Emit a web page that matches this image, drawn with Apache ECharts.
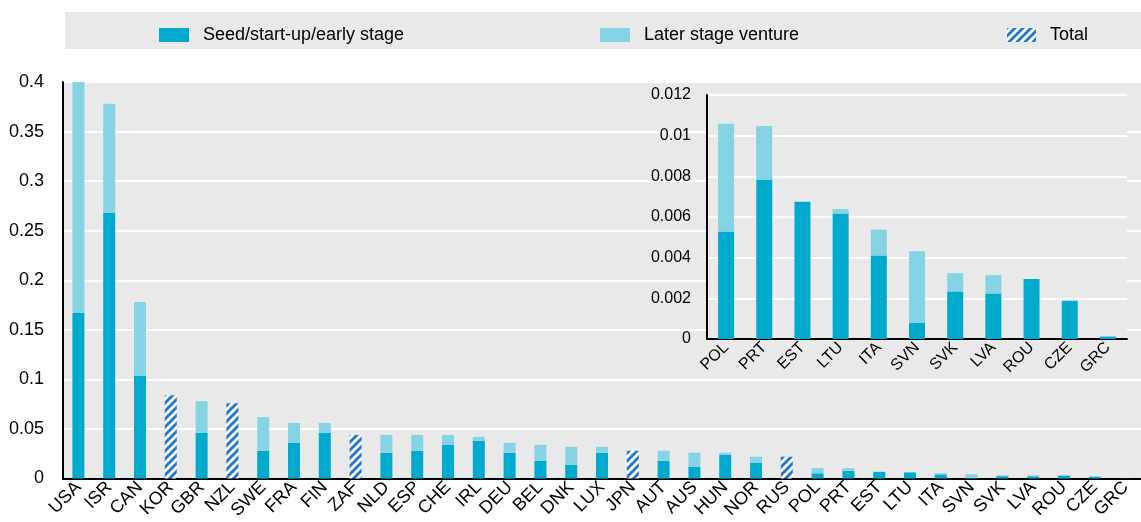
<!DOCTYPE html>
<html>
<head>
<meta charset="utf-8">
<script src="https://cdn.jsdelivr.net/npm/echarts@6/dist/echarts.min.js"></script>
<style>
html,body{margin:0;padding:0;background:#fff;}
#chart{width:1141px;height:522px;}
</style>
</head>
<body>
<div id="chart"></div>
<script>
// ---- Data ----
const categories = ['USA','ISR','CAN','KOR','GBR','NZL','SWE','FRA','FIN','ZAF','NLD','ESP','CHE','IRL','DEU','BEL','DNK','LUX','JPN','AUT','AUS','HUN','NOR','RUS','POL','PRT','EST','LTU','ITA','SVN','SVK','LVA','ROU','CZE','GRC'];
const seedValues = [0.167,0.268,0.1036,null,0.046,null,0.028,0.036,0.046,null,0.026,0.028,0.034,0.038,0.026,0.018,0.014,0.026,null,0.018,0.012,0.024,0.016,null,0.00529,0.00784,0.00675,0.00617,0.00411,0.00079,0.00234,0.00224,0.00295,0.00188,0.00012];
const laterValues = [0.233,0.110,0.0744,null,0.032,null,0.034,0.020,0.010,null,0.018,0.016,0.010,0.004,0.010,0.016,0.018,0.006,null,0.010,0.014,0.002,0.006,null,0.00529,0.00264,0,0.00022,0.00127,0.00353,0.0009,0.0009,0,0,0];
const totalValues = [null,null,null,0.084,null,0.076,null,null,null,0.044,null,null,null,null,null,null,null,null,0.028,null,null,null,null,0.022,null,null,null,null,null,null,null,null,null,null,null];
const insetCategories = ['POL','PRT','EST','LTU','ITA','SVN','SVK','LVA','ROU','CZE','GRC'];
const insetSeed = [0.00529,0.00784,0.00675,0.00617,0.00411,0.00079,0.00234,0.00224,0.00295,0.00188,0.00012];
const insetLater = [0.00529,0.00264,0,0.00022,0.00127,0.00353,0.0009,0.0009,0,0,0];
const mainTicks = {min:0, max:0.4, interval:0.05};
const insetTicks = {min:0, max:0.012, interval:0.002};

// ---- Style ----
const FONT = "'Liberation Sans',Arial,sans-serif";
const C_SEED = '#00aacc';
const C_LATER = '#86d3e5';
const C_BG = '#e9e9e9';

function makePattern(){
  const c = document.createElement('canvas');
  c.width = 8; c.height = 8;
  const g = c.getContext('2d');
  g.fillStyle = '#ffffff'; g.fillRect(0,0,8,8);
  g.strokeStyle = '#2479c9'; g.lineWidth = 3;
  g.beginPath();
  g.moveTo(-4,4); g.lineTo(4,-4);
  g.moveTo(0,8); g.lineTo(8,0);
  g.moveTo(4,12); g.lineTo(12,4);
  g.stroke();
  return c;
}
const totalPattern = {image: makePattern(), repeat: 'repeat'};

const chart = echarts.init(document.getElementById('chart'), null, {renderer:'canvas'});
const legendText = {fontSize: 18, fontFamily: FONT, color: '#000', padding: [0,0,0,9]};
const option = {
  animation: false,
  graphic: [{type:'rect', shape:{x:65, y:12, width:1076, height:37}, style:{fill:C_BG}, z:-10, silent:true}],
  legend: [
    {data:['Seed/start-up/early stage'], left:159, top:26, padding:0, itemWidth:30, itemHeight:14, icon:'rect', textStyle:legendText, selectedMode:false},
    {data:['Later stage venture'], left:600, top:26, padding:0, itemWidth:30, itemHeight:14, icon:'rect', textStyle:legendText, selectedMode:false},
    {data:['Total'], left:1007, top:26, padding:0, itemWidth:29, itemHeight:14, icon:'rect', textStyle:legendText, selectedMode:false}
  ],
  grid: [
    {left:63, top:82, width:31*35, height:399, show:true, backgroundColor:C_BG, borderWidth:0, containLabel:false},
    {left:707, top:95, width:420, height:244, show:true, backgroundColor:C_BG, borderWidth:0, containLabel:false, z:3}
  ],
  xAxis: [
    {type:'category', gridIndex:0, data:categories, boundaryGap:true,
     axisLine:{lineStyle:{color:'#000', width:2}}, axisTick:{show:false},
     axisLabel:{interval:0, rotate:45, margin:6, fontSize:18, fontFamily:FONT, color:'#000'}},
    {type:'category', gridIndex:1, data:insetCategories, boundaryGap:true, z:4,
     axisLine:{lineStyle:{color:'#000', width:2}}, axisTick:{show:false},
     axisLabel:{interval:0, rotate:45, margin:6, fontSize:16, fontFamily:FONT, color:'#000'}}
  ],
  yAxis: [
    {type:'value', gridIndex:0, min:mainTicks.min, max:mainTicks.max, interval:mainTicks.interval,
     axisLine:{show:true, lineStyle:{color:'#000', width:2}}, axisTick:{show:false},
     splitLine:{lineStyle:{color:'#fff', width:2}},
     axisLabel:{margin:19, fontSize:18, fontFamily:FONT, color:'#000'}},
    {type:'value', gridIndex:1, min:insetTicks.min, max:insetTicks.max, interval:insetTicks.interval, z:4,
     axisLine:{show:true, lineStyle:{color:'#000', width:2}}, axisTick:{show:false},
     splitLine:{lineStyle:{color:'#fff', width:2}},
     axisLabel:{margin:16, fontSize:16, fontFamily:FONT, color:'#000'}}
  ],
  series: [
    {name:'Seed/start-up/early stage', type:'bar', stack:'m', xAxisIndex:0, yAxisIndex:0, barWidth:12, data:seedValues, itemStyle:{color:C_SEED}},
    {name:'Later stage venture', type:'bar', stack:'m', xAxisIndex:0, yAxisIndex:0, barWidth:12, data:laterValues, itemStyle:{color:C_LATER}},
    {name:'Total', type:'bar', stack:'m', xAxisIndex:0, yAxisIndex:0, barWidth:12, data:totalValues, itemStyle:{color:totalPattern}},
    {name:'Seed/start-up/early stage', type:'bar', stack:'i', xAxisIndex:1, yAxisIndex:1, barWidth:16, data:insetSeed, itemStyle:{color:C_SEED}, z:5},
    {name:'Later stage venture', type:'bar', stack:'i', xAxisIndex:1, yAxisIndex:1, barWidth:16, data:insetLater, itemStyle:{color:C_LATER}, z:5}
  ]
};
chart.setOption(option);
</script>
</body>
</html>
